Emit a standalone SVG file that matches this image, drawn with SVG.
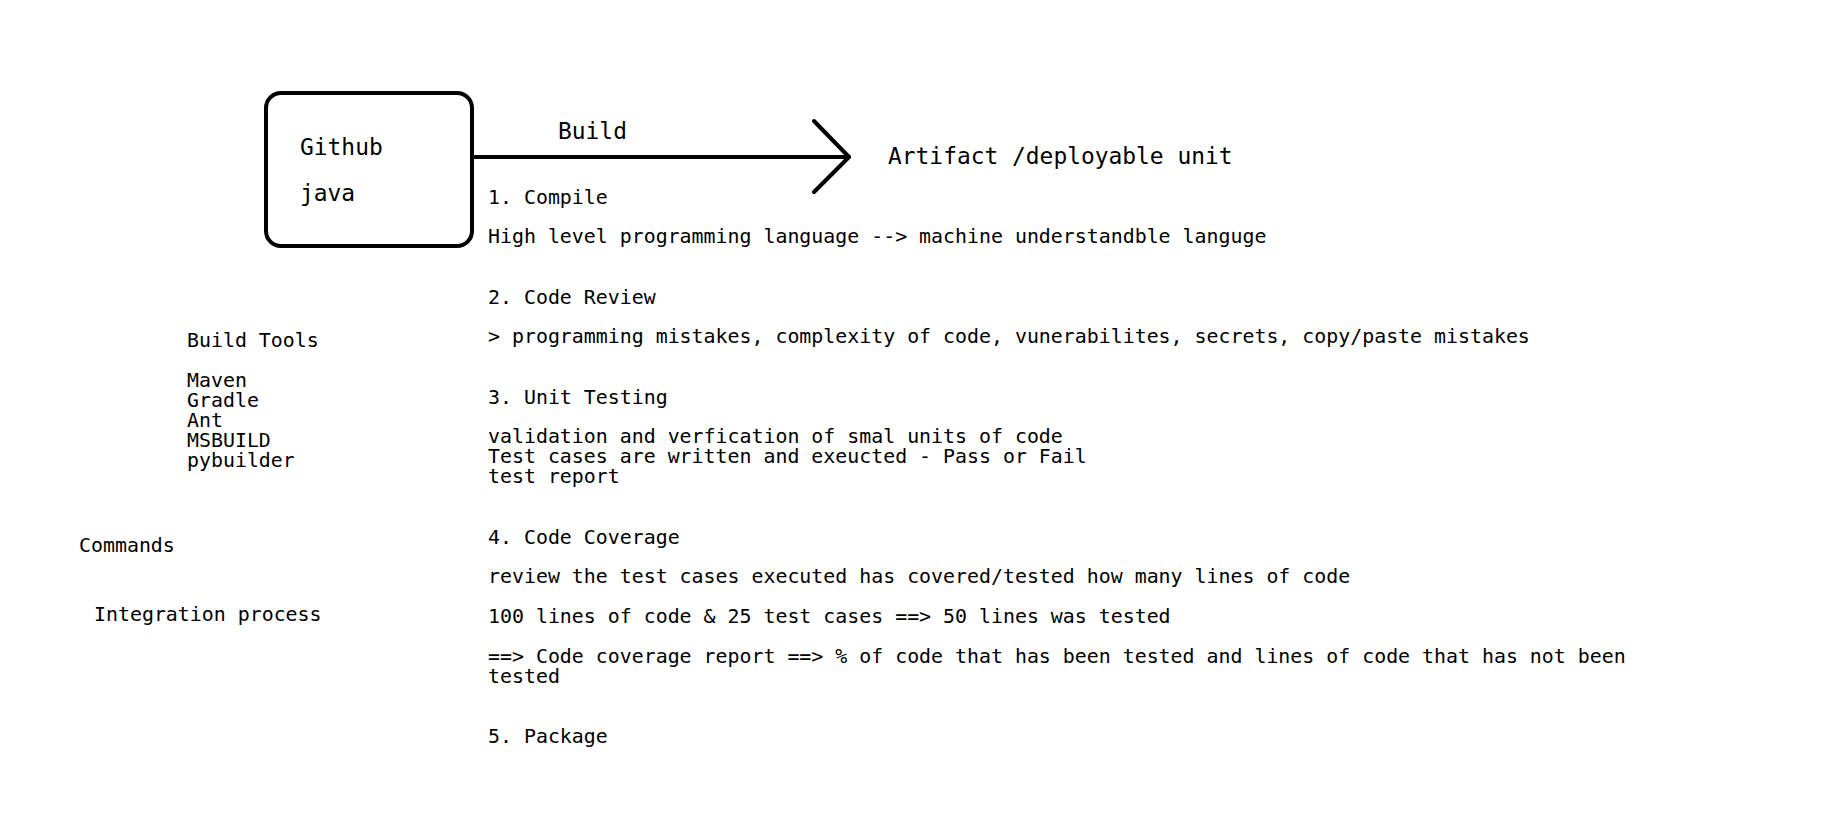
<svg xmlns="http://www.w3.org/2000/svg" width="1829" height="821" viewBox="0 0 1829 821">
<style>
text{font-family:"DejaVu Sans Mono","Liberation Mono",monospace;fill:#000}
.s{font-size:19.9px}
.l{font-size:22.9px}
.box{fill:none;stroke:#000;stroke-width:4}
.con{fill:none;stroke:#000;stroke-width:4;stroke-linecap:round;stroke-linejoin:round}
</style>
<rect width="1829" height="821" fill="#fff"/>
<g id="github">
<rect class="box" x="266" y="93" width="206" height="153" rx="15" ry="15"/>
<text class="l" x="300" y="155">Github</text>
<text class="l" x="300" y="201">java</text>
</g>
<g id="connectors">
<line class="con" x1="472" y1="157" x2="849" y2="157"/>
<polyline class="con" points="814,121 849,157 814,192"/>
<text class="l" x="558" y="139">Build</text>
</g>
<g id="artifact">
<text class="l" x="888" y="164">Artifact /deployable unit</text>
</g>
<g id="steps">
<text class="s" x="488" y="204">1. Compile</text>
<text class="s" x="488" y="243">High level programming language --&gt; machine understandble languge</text>
<text class="s" x="488" y="304">2. Code Review</text>
<text class="s" x="488" y="343">&gt; programming mistakes, complexity of code, vunerabilites, secrets, copy/paste mistakes</text>
<text class="s" x="488" y="404">3. Unit Testing</text>
<text class="s" x="488" y="443">validation and verfication of smal units of code</text>
<text class="s" x="488" y="463">Test cases are written and exeucted - Pass or Fail</text>
<text class="s" x="488" y="483">test report</text>
<text class="s" x="488" y="544">4. Code Coverage</text>
<text class="s" x="488" y="583">review the test cases executed has covered/tested how many lines of code</text>
<text class="s" x="488" y="623">100 lines of code &amp; 25 test cases ==&gt; 50 lines was tested</text>
<text class="s" x="488" y="663">==&gt; Code coverage report ==&gt; % of code that has been tested and lines of code that has not been</text>
<text class="s" x="488" y="683">tested</text>
<text class="s" x="488" y="743">5. Package</text>
</g>
<g id="tools">
<text class="s" x="187" y="347">Build Tools</text>
<text class="s" x="187" y="387">Maven</text>
<text class="s" x="187" y="407">Gradle</text>
<text class="s" x="187" y="427">Ant</text>
<text class="s" x="187" y="447">MSBUILD</text>
<text class="s" x="187" y="467">pybuilder</text>
</g>
<g id="side">
<text class="s" x="79" y="552">Commands</text>
<text class="s" x="94" y="621">Integration process</text>
</g>
</svg>
